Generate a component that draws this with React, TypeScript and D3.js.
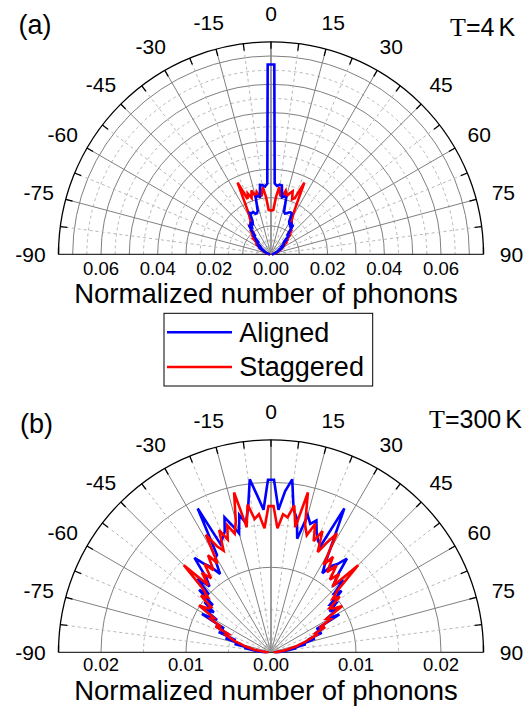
import React from 'react';
import * as d3 from 'd3';

// Angles (degrees) at which the phonon distributions are sampled
const angles = [-89,-87,-85,-83,-81,-79,-77,-75,-73,-71,-69,-67,-65,-63,-61,-59,-57,-55,-53,-51,-49,-47,-45,-43,-41,-39,-37,-35,-33,-31,-29,-27,-25,-23,-21,-19,-17,-15,-13,-11,-9,-7,-5,-3,-1,1,3,5,7,9,11,13,15,17,19,21,23,25,27,29,31,33,35,37,39,41,43,45,47,49,51,53,55,57,59,61,63,65,67,69,71,73,75,77,79,81,83,85,87,89];

// Normalized number of phonons (x 10^-3), T = 4 K
const alignedT4 = [0.3,0.4,0.5,0.6,0.8,1.0,1.2,1.5,1.6,2.0,2.2,2.8,3.0,3.6,3.4,4.4,4.2,5.2,5.0,6.2,5.8,7.4,7.0,9.2,8.4,11.0,12.9,11.8,13.0,12.5,13.5,16.4,16.0,16.2,15.3,15.3,16.0,21.0,21.0,20.7,24.8,24.6,24.0,25.0,67.0,
  67.0,25.0,24.2,24.8,24.6,20.5,21.0,20.8,15.8,15.2,15.5,16.0,16.3,16.2,13.2,12.6,13.0,11.6,13.0,10.6,8.6,9.4,7.2,7.6,5.6,6.0,4.8,5.0,4.0,4.2,3.4,3.5,2.8,2.6,2.0,1.9,1.5,1.4,1.1,0.9,0.7,0.6,0.5,0.4,0.3];
const staggeredT4 = [0.3,0.4,0.5,0.7,0.9,1.1,1.4,1.6,2.0,2.2,2.8,3.0,3.6,3.8,4.6,4.6,5.6,5.4,6.8,6.4,8.0,7.6,9.6,9.0,10.6,10.2,12.8,12.6,13.4,14.0,16.0,20.0,27.9,21.2,23.0,21.0,23.6,21.0,22.6,20.7,21.0,24.0,20.4,15.7,15.5,
  15.5,15.7,20.4,24.0,21.0,20.7,23.0,21.2,22.5,23.5,20.8,21.5,27.9,20.0,16.2,14.2,13.4,12.8,12.4,10.4,10.8,9.2,9.4,7.8,7.8,6.4,6.6,5.4,5.4,4.6,4.4,3.8,3.4,3.0,2.6,2.2,1.8,1.6,1.3,1.1,0.9,0.7,0.5,0.4,0.3];

// Normalized number of phonons (x 10^-3), T = 300 K
const alignedT300 = [0.5,1.0,1.6,2.2,3.2,2.6,4.4,3.6,5.6,4.4,6.6,5.4,7.2,6.2,9.3,7.4,9.4,8.2,9.8,8.8,11.2,10.0,12.2,10.6,11.6,14.3,13.0,12.2,11.0,12.8,13.1,19.0,14.0,14.6,15.2,16.8,15.6,14.5,16.6,15.5,17.2,20.5,18.5,16.8,20.3,
  20.3,16.8,19.0,20.5,17.0,16.0,13.7,16.7,15.8,16.4,15.0,14.2,13.8,19.0,15.2,12.6,11.1,12.4,13.0,14.2,11.8,10.8,12.0,10.2,11.0,9.0,9.6,8.4,9.2,7.6,9.2,6.0,7.0,5.6,6.4,4.6,5.4,3.8,4.2,2.8,3.0,2.0,1.5,1.0,0.5];
const staggeredT300 = [0.3,0.6,1.0,1.4,2.0,2.4,3.2,3.6,4.4,5.0,5.7,5.4,7.2,6.6,8.2,7.8,10.1,9.0,8.8,10.6,9.8,11.0,14.5,10.8,12.4,11.2,13.0,11.8,13.6,12.2,15.8,14.0,13.2,15.6,14.2,15.8,14.6,16.0,19.3,15.0,17.6,15.8,16.3,14.6,17.2,
  17.2,14.6,16.3,16.0,17.5,15.0,19.3,15.5,14.4,16.0,14.0,15.5,13.0,14.5,16.0,12.0,13.4,11.5,12.8,11.0,12.2,10.6,14.5,10.8,9.6,10.4,8.6,9.0,10.0,7.6,8.0,6.4,7.0,5.6,5.8,4.8,4.2,3.4,3.0,2.2,1.8,1.3,0.9,0.6,0.3];

const angleTicks = [-90,-75,-60,-45,-30,-15,0,15,30,45,60,75,90];
const radialTicksT4 = [0, 20, 40, 60];
const radialTicksT300 = [0, 10, 20];
const legendLabels = ['Aligned', 'Staggered'];
const axisTitle = 'Normalized number of phonons';

const FONT = "'Liberation Sans', Arial, Helvetica, sans-serif";
const BLUE = '#0000ff';
const RED = '#ff0000';

type PanelProps = {
  cx: number; cy: number; R: number; max: number;
  ticks: number[]; aligned: number[]; staggered: number[];
  blueOnTop: boolean; tickDy: number;
};

function PolarPanel({ cx, cy, R, max, ticks, aligned, staggered, blueOnTop, tickDy }: PanelProps) {
  const r = d3.scaleLinear().domain([0, max]).range([0, R]);
  const a = d3.scaleLinear().domain([-90, 90]).range([-Math.PI / 2, Math.PI / 2]);
  const rings = d3.range(5, max - 0.001, 5);
  const spokes = d3.range(-82.5, 83, 7.5);
  const rimTicks = d3.range(-82.5, 83, 7.5);
  const line = d3.lineRadial<[number, number]>()
    .angle(d => a(d[0]))
    .radius(d => r(d[1]));
  const semi = (rr: number) => `M ${-rr} 0 A ${rr} ${rr} 0 0 1 ${rr} 0`;
  const pt = (deg: number, rr: number) => {
    const t = (deg * Math.PI) / 180;
    return [rr * Math.sin(t), -rr * Math.cos(t)];
  };
  const blue = <path d={line(angles.map((t, i) => [t, aligned[i]]) as [number, number][]) || ''} fill="none" stroke={BLUE} strokeWidth={2.6} strokeLinejoin="miter" strokeMiterlimit={3} />;
  const red = <path d={line(angles.map((t, i) => [t, staggered[i]]) as [number, number][]) || ''} fill="none" stroke={RED} strokeWidth={2.6} strokeLinejoin="miter" strokeMiterlimit={3} />;
  const labelR = R + 28;
  return (
    <g transform={`translate(${cx},${cy})`}>
      {rings.map(v => (
        <path key={`ring${v}`} d={semi(r(v))} fill="none"
          stroke={v % 10 === 0 ? '#808080' : '#b8b8b8'} strokeWidth={1}
          strokeDasharray={v % 10 === 0 ? undefined : '3,3'} />
      ))}
      {spokes.map(s => {
        const [x, y] = pt(s, R);
        const solid = Math.abs(s % 15) < 1e-6;
        return <line key={`sp${s}`} x1={0} y1={0} x2={x} y2={y}
          stroke={solid ? '#808080' : '#b8b8b8'} strokeWidth={s === 0 ? 1.6 : 1}
          strokeDasharray={solid ? undefined : '3,3'} />;
      })}
      <line x1={-R} y1={0} x2={R} y2={0} stroke="#333" strokeWidth={1.2} />
      <path d={semi(R)} fill="none" stroke="#000" strokeWidth={1.3} />
      {rimTicks.map(s => {
        const [x1, y1] = pt(s, R);
        const [x2, y2] = pt(s, R - 7);
        return <line key={`rt${s}`} x1={x1} y1={y1} x2={x2} y2={y2} stroke="#000" strokeWidth={1.3} />;
      })}
      <line x1={-R} y1={0} x2={-R} y2={-7} stroke="#000" strokeWidth={1.3} />
      <line x1={R} y1={0} x2={R} y2={-7} stroke="#000" strokeWidth={1.3} />
      {blueOnTop ? <>{red}{blue}</> : <>{blue}{red}</>}
      {angleTicks.map(t => {
        const [x, y] = pt(t, labelR);
        return <text key={`al${t}`} x={x} y={y + 7.5} textAnchor="middle" fontSize={21} fontFamily={FONT}>{t}</text>;
      })}
      {ticks.flatMap(v => (v === 0 ? [0] : [-v, v])).map(v => (
        <text key={`rl${v}`} x={Math.sign(v) * r(Math.abs(v))} y={tickDy} textAnchor="middle" fontSize={18.5} fontFamily={FONT}>
          {(Math.abs(v) / 1000).toFixed(2)}
        </text>
      ))}
    </g>
  );
}

export default function App() {
  return (
    <div style={{ position: 'absolute', left: 0, top: 0 }}>
      <svg width={530} height={707} viewBox="0 0 530 707" style={{ display: 'block', background: '#fff' }}>
        <PolarPanel cx={271} cy={254.3} R={212.5} max={75} ticks={radialTicksT4}
          aligned={alignedT4} staggered={staggeredT4} blueOnTop={true} tickDy={20.5} />
        <PolarPanel cx={271} cy={652.3} R={212.5} max={25} ticks={radialTicksT300}
          aligned={alignedT300} staggered={staggeredT300} blueOnTop={false} tickDy={18.5} />

        <text x={18.5} y={34.3} fontSize={27} fontFamily={FONT}>(a)</text>
        <text x={20} y={433} fontSize={27} fontFamily={FONT}>(b)</text>

        <text x={450} y={36} fontSize={25} fontFamily={FONT}>
          <tspan fontFamily="'Liberation Serif', 'Times New Roman', serif" fontSize={26}>T</tspan>
          <tspan>=4</tspan><tspan dx={4}>K</tspan>
        </text>
        <text x={429} y={428.3} fontSize={25} fontFamily={FONT}>
          <tspan fontFamily="'Liberation Serif', 'Times New Roman', serif" fontSize={26}>T</tspan>
          <tspan>=300</tspan><tspan dx={4}>K</tspan>
        </text>

        <text x={266} y={303.3} textAnchor="middle" fontSize={27.5} fontFamily={FONT}>{axisTitle}</text>
        <text x={266} y={700} textAnchor="middle" fontSize={27.5} fontFamily={FONT}>{axisTitle}</text>

        <rect x={164} y={313.3} width={208.7} height={72.7} fill="#fff" stroke="#000" strokeWidth={1} />
        <line x1={167} y1={332.3} x2={232} y2={332.3} stroke={BLUE} strokeWidth={2.6} />
        <line x1={167} y1={367} x2={232} y2={367} stroke={RED} strokeWidth={2.6} />
        <text x={239.3} y={341.7} fontSize={27} fontFamily={FONT}>{legendLabels[0]}</text>
        <text x={239.3} y={376.4} fontSize={27} fontFamily={FONT}>{legendLabels[1]}</text>
      </svg>
    </div>
  );
}
